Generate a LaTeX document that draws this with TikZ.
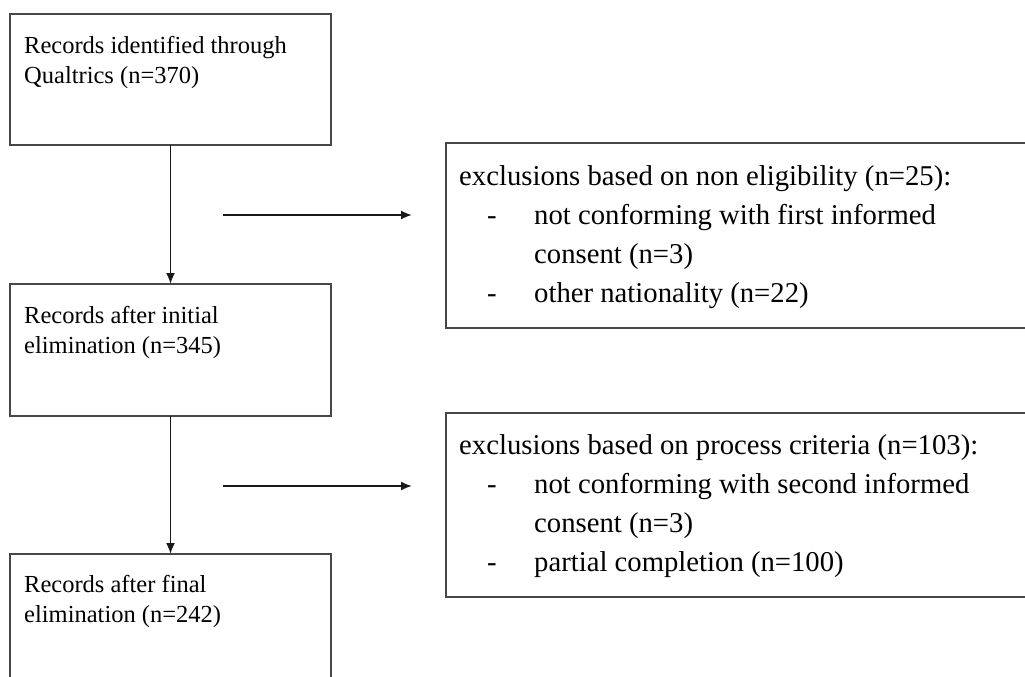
\documentclass[tikz,border=0pt]{standalone}
\usepackage{fontspec}
\setmainfont{Liberation Serif}
\usetikzlibrary{arrows.meta}
\begin{document}
\begin{tikzpicture}[x=1pt,y=-1pt,
  box/.style={draw=black!72, line width=2pt, inner sep=0pt, outer sep=0pt, anchor=north west},
  ltext/.style={anchor=base west, inner sep=0pt, font=\fontsize{24.5}{30}\selectfont},
  rtext/.style={anchor=base west, inner sep=0pt, font=\fontsize{28.7}{40}\selectfont},
  arr/.style={draw=black!90, line width=1.8pt, -{Latex[length=11pt,width=9pt]}}]
\useasboundingbox (0,0) rectangle (1025,677);
\fill[white] (0,0) rectangle (1025,677);
% left boxes
\node[box, minimum width=321pt, minimum height=131pt] (b1) at (10,14) {};
\node[box, minimum width=321pt, minimum height=132pt] (b2) at (10,284) {};
\node[box, minimum width=321pt, minimum height=150pt] (b3) at (10,554) {};
% right boxes
\node[box, minimum width=590pt, minimum height=185pt] (e1) at (446,143) {};
\node[box, minimum width=590pt, minimum height=184pt] (e2) at (446,413) {};
% left texts
\node[ltext] (t1a) at (24,53) {Records identified through};
\node[ltext] (t1b) at (24,83) {Qualtrics (n=370)};
\node[ltext] (t2a) at (24,323) {Records after initial};
\node[ltext] (t2b) at (24,353) {elimination (n=345)};
\node[ltext] (t3a) at (24,592) {Records after final};
\node[ltext] (t3b) at (24,622) {elimination (n=242)};
% right texts, box 1
\node[rtext] (u0) at (459,185) {exclusions based on non eligibility (n=25):};
\node[rtext] (u1d) at (487,224) {-};
\node[rtext] (u1) at (534,224) {not conforming with first informed};
\node[rtext] (u2) at (534,263) {consent (n=3)};
\node[rtext] (u3d) at (487,302) {-};
\node[rtext] (u3) at (534,302) {other nationality (n=22)};
% right texts, box 2
\node[rtext] (v0) at (459,454) {exclusions based on process criteria (n=103):};
\node[rtext] (v1d) at (487,493) {-};
\node[rtext] (v1) at (534,493) {not conforming with second informed};
\node[rtext] (v2) at (534,532) {consent (n=3)};
\node[rtext] (v3d) at (487,571) {-};
\node[rtext] (v3) at (534,571) {partial completion (n=100)};
% connectors
\draw[arr] (b1.south) -- (b2.north);
\draw[arr] (b2.south) -- (b3.north);
\coordinate (h1s) at (223,215);
\coordinate (h1e) at (412,215);
\coordinate (h2s) at (223,486);
\coordinate (h2e) at (412,486);
\draw[arr] (h1s) -- (h1e);
\draw[arr] (h2s) -- (h2e);
\end{tikzpicture}
\end{document}
